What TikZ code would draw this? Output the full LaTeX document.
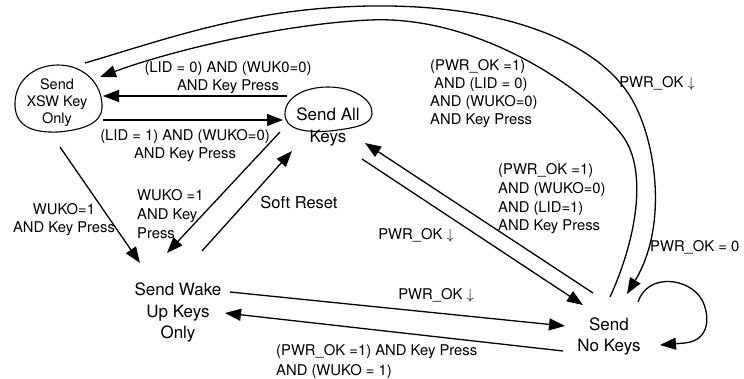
\documentclass[tikz,border=0pt]{standalone}
\usepackage{fontspec}
\setmainfont{TeX Gyre Heros}
\usetikzlibrary{arrows.meta}
\begin{document}
\begin{tikzpicture}[x=1pt,y=-1pt,
  conn/.style={line width=1.3pt, -{Triangle[length=16pt,width=12pt]}},
  blob/.style={draw, line width=1.1pt},
  lbl/.style={inner sep=0pt, font=\fontsize{14.8}{18}\selectfont},
  state/.style={inner sep=0pt, align=center, font=\fontsize{17}{21.5}\selectfont}]
\useasboundingbox (0,0) rectangle (744,379);

% ---- state outlines ----
\draw[blob] (15,106) .. controls (14,80) and (35,65) .. (58,65)
  .. controls (84,65) and (103,84) .. (102,108)
  .. controls (101,124) and (82,130) .. (58,132)
  .. controls (32,133) and (16,126) .. (15,106) -- cycle;
\draw[blob] (285,114) .. controls (285,97) and (305,87) .. (328,87)
  .. controls (353,87) and (373,99) .. (372,114)
  .. controls (371,125) and (355,128) .. (330,131)
  .. controls (303,133) and (285,129) .. (285,114) -- cycle;

% ---- states ----
\node[state, font=\fontsize{14.5}{17}\selectfont] (xsw) at (57,103) {Send\\XSW Key\\Only};
\node[state, font=\fontsize{17}{22}\selectfont] (all) at (328,127) {Send All\\Keys};
\node[state] (wake) at (178,313) {Send Wake\\Up Keys\\Only};
\node[state, font=\fontsize{17}{21}\selectfont] (none) at (609,337) {Send\\No Keys};

% ---- connector end points ----
\coordinate (xswTop)   at (85,63);
\coordinate (xswIn)    at (100,77);
\coordinate (xswL)     at (103,96);
\coordinate (xswR)     at (103,120);
\coordinate (xswDown)  at (60,147);
\coordinate (allL)     at (287,96);
\coordinate (allR)     at (283,120);
\coordinate (allDown)  at (280,132);
\coordinate (allUp)    at (292,151);
\coordinate (allIn)    at (365,143);
\coordinate (allOut)   at (362,159);
\coordinate (wakeIn1)  at (140,263);
\coordinate (wakeIn2)  at (167,253);
\coordinate (wakeUp)   at (202,251);
\coordinate (wakeOut)  at (230,292);
\coordinate (wakeIn3)  at (225,313);
\coordinate (noneIn1)  at (583,305);
\coordinate (noneOut1) at (593,293);
\coordinate (noneIn2)  at (565,326);
\coordinate (noneOut2) at (563,351);
\coordinate (noneOut3) at (610,297);
\coordinate (noneIn3)  at (627,294);
\coordinate (loopOut)  at (638,302);
\coordinate (loopIn)   at (660,345);

% ---- long arcs over the top ----
\draw[conn] (xswTop) .. controls (170,38) and (250,8) .. (370,6)
  .. controls (510,4) and (605,45) .. (635,105)
  .. controls (657,148) and (667,228) .. (noneIn3);
\draw[conn] (noneOut3) .. controls (634,245) and (650,172) .. (622,135)
  .. controls (588,91) and (480,15) .. (370,20)
  .. controls (280,24) and (167,52) .. (xswIn);

% ---- straight connectors ----
\draw[conn] (allL) -- (xswL);
\draw[conn] (xswR) -- (allR);
\draw[conn] (xswDown) -- (wakeIn1);
\draw[conn] (allDown) -- (wakeIn2);
\draw[conn] (wakeUp) -- (allUp);
\draw[conn] (allOut) -- (noneIn1);
\draw[conn] (noneOut1) -- (allIn);
\draw[conn] (wakeOut) -- (noneIn2);
\draw[conn] (noneOut2) -- (wakeIn3);

% ---- self loop ----
\draw[conn] (loopOut) .. controls (648,272) and (690,278) .. (702,300)
  .. controls (709,313) and (712,340) .. (685,343) -- (loopIn);

% ---- transition labels ----
\node[lbl, align=center] (l1) at (228,78) {(LID = 0) AND (WUK0=0)\\AND Key Press};
\node[lbl, align=center] (l2) at (185,146) {(LID = 1) AND (WUKO=0)\\AND Key Press};
\node[lbl, align=center] (l3) at (64,220) {WUKO=1\\AND Key Press};
\node[lbl, align=left, anchor=west, font=\fontsize{14.8}{19}\selectfont] (l4) at (137,214) {WUKO =1\\AND Key\\Press};
\node[lbl, font=\fontsize{16.5}{20}\selectfont] (l5) at (299,202) {Soft Reset};
\node[lbl] (l6) at (657,83) {PWR\_OK $\downarrow$};
\node[lbl, align=left, anchor=west] (l7) at (430,94)
  {(PWR\_OK =1)\\\hspace{4pt}AND (LID = 0)\\AND (WUKO=0)\\AND Key Press};
\node[lbl, align=left, anchor=west, font=\fontsize{14.8}{18.7}\selectfont] (l8) at (498,199)
  {(PWR\_OK =1)\\AND (WUKO=0)\\AND (LID=1)\\AND Key Press};
\node[lbl] (l9) at (416,235) {PWR\_OK $\downarrow$};
\node[lbl] (l10) at (436,295) {PWR\_OK $\downarrow$};
\node[lbl, anchor=west] (l11) at (650,247) {PWR\_OK = 0};
\node[lbl, align=left, anchor=west, font=\fontsize{14.8}{20}\selectfont] (l12) at (276,362)
  {(PWR\_OK =1) AND Key Press\\AND (WUKO = 1)};
\end{tikzpicture}
\end{document}
